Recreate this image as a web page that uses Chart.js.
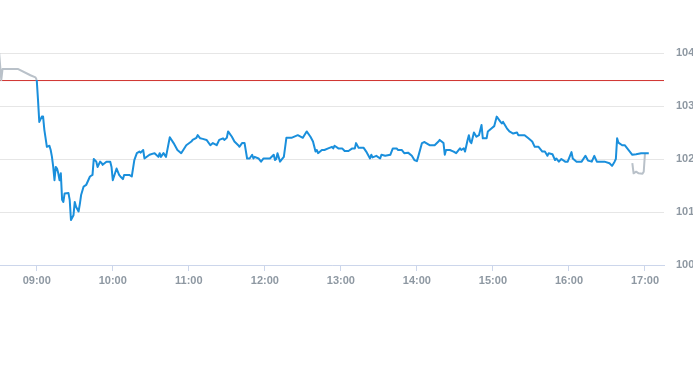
<!DOCTYPE html>
<html>
<head>
<meta charset="utf-8">
<script src="https://cdn.jsdelivr.net/npm/chart.js@4"></script>
<style>
  html, body { margin: 0; padding: 0; background: #ffffff; }
  #wrap { width: 693px; height: 365px; position: relative; }
</style>
</head>
<body>
<div id="wrap"><canvas id="c" width="693" height="365"></canvas></div>
<script>
// ---- data ----
const hourTicks = ["09:00","10:00","11:00","12:00","13:00","14:00","15:00","16:00","17:00"];
const yTicks = [100, 101, 102, 103, 104];
const previousClose = 103.48;

const preTimes  = ["08:30","08:32","08:33","08:45","08:55","08:59","09:00"];
const preValues = [104.10, 103.49, 103.70, 103.70, 103.58, 103.54, 103.49];

const postTimes  = ["16:50","16:51","16:53","16:55","16:58","16:59","17:00"];
const postValues = [101.92, 101.73, 101.76, 101.73, 101.72, 101.76, 102.11];

const mainTimes = [
"09:00","09:01","09:02","09:04","09:05","09:06","09:08","09:10","09:11","09:12",
"09:13","09:14","09:15","09:16","09:17","09:18","09:19","09:20","09:21","09:22",
"09:25","09:26","09:27","09:29","09:30","09:31","09:33","09:34","09:35","09:37",
"09:39","09:42","09:44","09:45","09:47","09:48","09:50","09:51","09:52","09:55",
"09:58","09:59","10:00","10:03","10:05","10:06","10:08","10:09","10:13","10:15",
"10:17","10:19","10:21","10:22","10:24","10:25","10:29","10:33","10:36","10:37",
"10:38","10:40","10:42","10:45","10:48","10:51","10:54","10:58","11:02","11:03",
"11:06","11:07","11:09","11:11","11:14","11:17","11:19","11:22","11:24","11:27",
"11:28","11:30","11:31","11:34","11:36","11:39","11:40","11:42","11:44","11:46",
"11:48","11:50","11:51","11:52","11:55","11:57","11:59","12:04","12:07","12:08",
"12:09","12:10","12:12","12:14","12:15","12:17","12:21","12:26","12:30","12:33",
"12:36","12:38","12:40","12:41","12:42","12:45","12:47","12:50","12:53","12:54",
"12:55","12:58","13:01","13:03","13:06","13:09","13:11","13:12","13:14","13:18",
"13:20","13:23","13:24","13:25","13:28","13:31","13:32","13:35","13:39","13:41",
"13:44","13:45","13:48","13:50","13:53","13:56","13:58","14:00","14:01","14:04",
"14:06","14:10","14:14","14:17","14:18","14:21","14:22","14:23","14:26","14:29",
"14:31","14:34","14:35","14:37","14:38","14:40","14:41","14:42","14:43","14:45",
"14:47","14:49","14:51","14:52","14:55","14:56","14:59","15:01","15:03","15:06",
"15:07","15:08","15:11","15:13","15:16","15:19","15:20","15:25","15:28","15:31",
"15:33","15:36","15:39","15:41","15:43","15:44","15:47","15:49","15:50","15:52",
"15:54","15:57","15:59","16:02","16:03","16:06","16:10","16:13","16:15","16:18",
"16:20","16:22","16:28","16:32","16:34","16:36","16:37","16:38","16:39","16:42",
"16:44","16:46","16:48","16:50","16:53","16:57","17:00","17:03"
];
const mainValues = [
103.49,103.11,102.70,102.80,102.80,102.55,102.23,102.25,102.17,102.04,
101.85,101.60,101.85,101.82,101.73,101.60,101.73,101.23,101.19,101.35,
101.36,101.23,100.85,100.94,101.19,101.10,101.01,101.15,101.32,101.48,
101.51,101.67,101.70,102.00,101.95,101.85,101.95,101.93,101.89,101.95,
101.95,101.85,101.60,101.82,101.70,101.67,101.62,101.70,101.70,101.67,
101.98,102.11,102.14,102.12,102.17,102.01,102.08,102.11,102.04,102.11,
102.04,102.11,102.04,102.41,102.30,102.17,102.11,102.26,102.33,102.36,
102.40,102.45,102.39,102.38,102.36,102.26,102.30,102.26,102.36,102.39,
102.36,102.40,102.52,102.42,102.33,102.26,102.23,102.30,102.30,102.01,
102.01,102.08,102.01,102.04,102.01,101.95,102.01,102.01,102.08,101.98,
102.00,102.11,101.95,102.01,102.04,102.40,102.40,102.45,102.40,102.52,
102.42,102.33,102.14,102.17,102.11,102.17,102.17,102.20,102.23,102.20,
102.25,102.20,102.20,102.15,102.15,102.20,102.20,102.30,102.21,102.21,
102.14,102.01,102.08,102.03,102.06,102.01,102.08,102.06,102.08,102.20,
102.20,102.17,102.17,102.11,102.12,102.06,101.98,101.96,102.04,102.30,
102.32,102.26,102.26,102.33,102.36,102.30,102.08,102.17,102.17,102.14,
102.11,102.20,102.17,102.20,102.14,102.36,102.45,102.33,102.30,102.50,
102.42,102.45,102.64,102.39,102.39,102.52,102.58,102.62,102.80,102.70,
102.67,102.70,102.58,102.52,102.48,102.50,102.45,102.45,102.39,102.33,
102.23,102.23,102.14,102.14,102.06,102.11,102.09,101.98,102.01,101.95,
102.00,101.95,101.95,102.13,102.01,101.95,101.95,102.06,101.97,101.95,
102.06,101.95,101.95,101.92,101.87,101.95,102.00,102.39,102.31,102.26,
102.26,102.20,102.14,102.08,102.09,102.11,102.11,102.11
];

// ---- helpers ----
function toMin(s){ const p = s.split(":"); return (+p[0])*60 + (+p[1]); }
function fmt(m){ const h = Math.floor(m/60), mm = m%60; return String(h).padStart(2,"0")+":"+String(mm).padStart(2,"0"); }
function pts(times, vals){ return times.map((t,i)=>({x: toMin(t), y: vals[i]})); }

const X_MIN = toMin("08:31"), X_MAX = toMin("17:15");
const labelColor = "#8e98a2";
const labelFont = { family: "'Liberation Sans', Arial, sans-serif", size: 11, weight: "bold" };

new Chart(document.getElementById("c"), {
  type: "line",
  data: {
    datasets: [
      { data: [{x: X_MIN, y: previousClose}, {x: X_MAX, y: previousClose}],
        borderColor: "#d0312d", borderWidth: 1, pointRadius: 0, order: 3 },
      { data: pts(preTimes, preValues),
        borderColor: "#b9c1c9", borderWidth: 2, pointRadius: 0, order: 2 },
      { data: pts(postTimes, postValues),
        borderColor: "#b9c1c9", borderWidth: 2, pointRadius: 0, order: 2 },
      { data: pts(mainTimes, mainValues),
        borderColor: "#1a8fdc", borderWidth: 2, pointRadius: 0, order: 1 }
    ]
  },
  options: {
    responsive: false,
    animation: false,
    devicePixelRatio: 1,
    elements: { line: { tension: 0, borderJoinStyle: "round" } },
    layout: { padding: { top: 53, left: 0, right: 0, bottom: 0 } },
    plugins: { legend: { display: false }, tooltip: { enabled: false } },
    scales: {
      x: {
        type: "linear",
        min: X_MIN, max: X_MAX,
        afterBuildTicks: (s) => { s.ticks = hourTicks.map(t => ({ value: toMin(t) })); },
        afterFit: (s) => { s.height = 100; },
        grid: { drawOnChartArea: false, drawTicks: true, tickLength: 6, tickColor: "#ccd6eb", color: "#ccd6eb" },
        border: { display: true, color: "#ccd6eb", width: 1 },
        ticks: { color: labelColor, font: labelFont, padding: 3, maxRotation: 0, autoSkip: false,
                 callback: (v) => fmt(v) }
      },
      y: {
        position: "right",
        min: 100, max: 104,
        afterBuildTicks: (s) => { s.ticks = yTicks.map(v => ({ value: v })); },
        afterFit: (s) => { s.width = 29; },
        grid: { color: "#e6e6e6", lineWidth: 1, drawTicks: false },
        border: { display: false },
        ticks: { color: labelColor, font: labelFont, padding: 12, callback: (v) => String(v) }
      }
    }
  }
});
</script>
</body>
</html>
